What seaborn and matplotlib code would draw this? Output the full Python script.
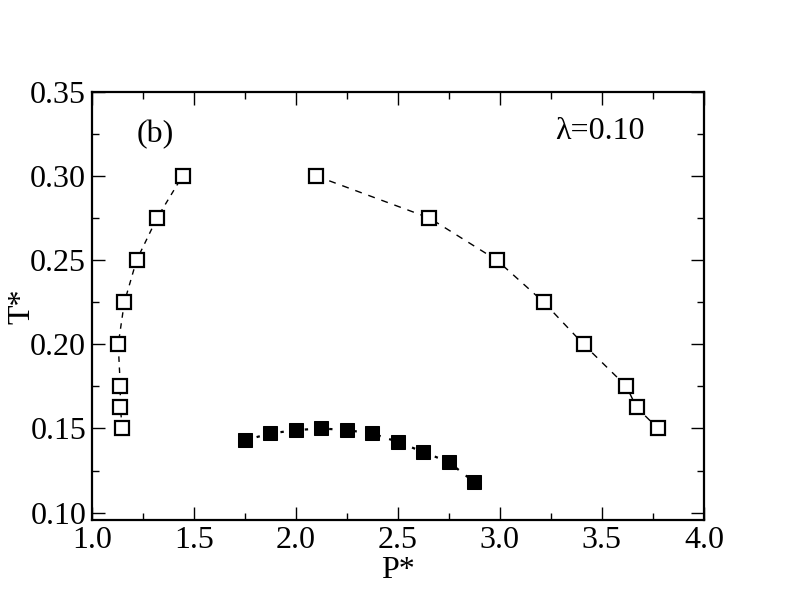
import numpy as np
import pandas as pd
import seaborn as sns
import matplotlib.pyplot as plt
from matplotlib.ticker import MultipleLocator

# data
left_p = [1.15, 1.14, 1.14, 1.13, 1.16, 1.22, 1.32, 1.445]
left_t = [0.15, 0.1625, 0.175, 0.20, 0.225, 0.25, 0.275, 0.30]

right_p = [2.10, 2.655, 2.985, 3.215, 3.41, 3.62, 3.67, 3.775]
right_t = [0.30, 0.275, 0.25, 0.225, 0.20, 0.175, 0.1625, 0.15]

solid_p = [1.75, 1.875, 2.0, 2.125, 2.25, 2.375, 2.5, 2.625, 2.75, 2.875]
solid_t = [0.143, 0.147, 0.149, 0.150, 0.149, 0.147, 0.142, 0.136, 0.130, 0.118]

left = pd.DataFrame({"P": left_p, "T": left_t})
right = pd.DataFrame({"P": right_p, "T": right_t})
solid = pd.DataFrame({"P": solid_p, "T": solid_t})

sns.set_style("ticks")
plt.rcParams['font.family'] = ['Liberation Serif', 'DejaVu Serif']
plt.rcParams['text.color'] = 'black'
plt.rcParams['axes.labelcolor'] = 'black'
plt.rcParams['xtick.color'] = 'black'
plt.rcParams['ytick.color'] = 'black'

fig = plt.figure(figsize=(7.92, 6.12), dpi=100)
ax = fig.add_axes([0.1158, 0.1503, 0.7730, 0.6997])

open_kw = dict(marker="s", markersize=10.5, markerfacecolor="white",
               markeredgecolor="black", markeredgewidth=1.6, color="black")

sns.lineplot(data=left, x="P", y="T", sort=False, estimator=None, ax=ax,
             linewidth=1.0, linestyle=(0, (4, 4)), **open_kw)
sns.lineplot(data=right, x="P", y="T", sort=False, estimator=None, ax=ax,
             linewidth=1.0, linestyle=(0, (5, 5)), **open_kw)
sns.lineplot(data=solid, x="P", y="T", sort=False, estimator=None, ax=ax,
             linewidth=1.6, linestyle=(0, (1.5, 4)), color="black",
             marker="s", markersize=10, markerfacecolor="black",
             markeredgecolor="black")

ax.set_xlim(1.0, 4.0)
ax.set_ylim(0.0956, 0.35)
ax.xaxis.set_major_locator(MultipleLocator(0.5))
ax.xaxis.set_minor_locator(MultipleLocator(0.25))
ax.yaxis.set_major_locator(MultipleLocator(0.05))
ax.yaxis.set_minor_locator(MultipleLocator(0.025))
ax.xaxis.set_major_formatter(plt.FormatStrFormatter("%.1f"))
ax.yaxis.set_major_formatter(plt.FormatStrFormatter("%.2f"))

ax.tick_params(which="both", direction="in", top=True, right=True,
               width=1.0, color="black", labelcolor="black", labelsize=23)
ax.tick_params(which="major", length=9.5)
ax.tick_params(which="minor", length=5)
ax.tick_params(axis="y", pad=4)
ax.tick_params(axis="x", pad=4)
for s in ax.spines.values():
    s.set_linewidth(1.6)
    s.set_color("black")

ax.set_xlabel("P*", fontsize=23, color="black")
ax.set_ylabel("T*", fontsize=23, color="black")
ax.xaxis.set_label_coords(0.5, -0.085)
ax.yaxis.set_label_coords(-0.09, 0.5)

ax.text(0.103, 0.90, "(b)", transform=ax.transAxes, fontsize=23,
        ha="center", va="center", color="black")
ax.text(0.83, 0.908, "λ=0.10", transform=ax.transAxes, fontsize=23,
        ha="center", va="center", color="black")

fig.savefig("out.png", dpi=100)
